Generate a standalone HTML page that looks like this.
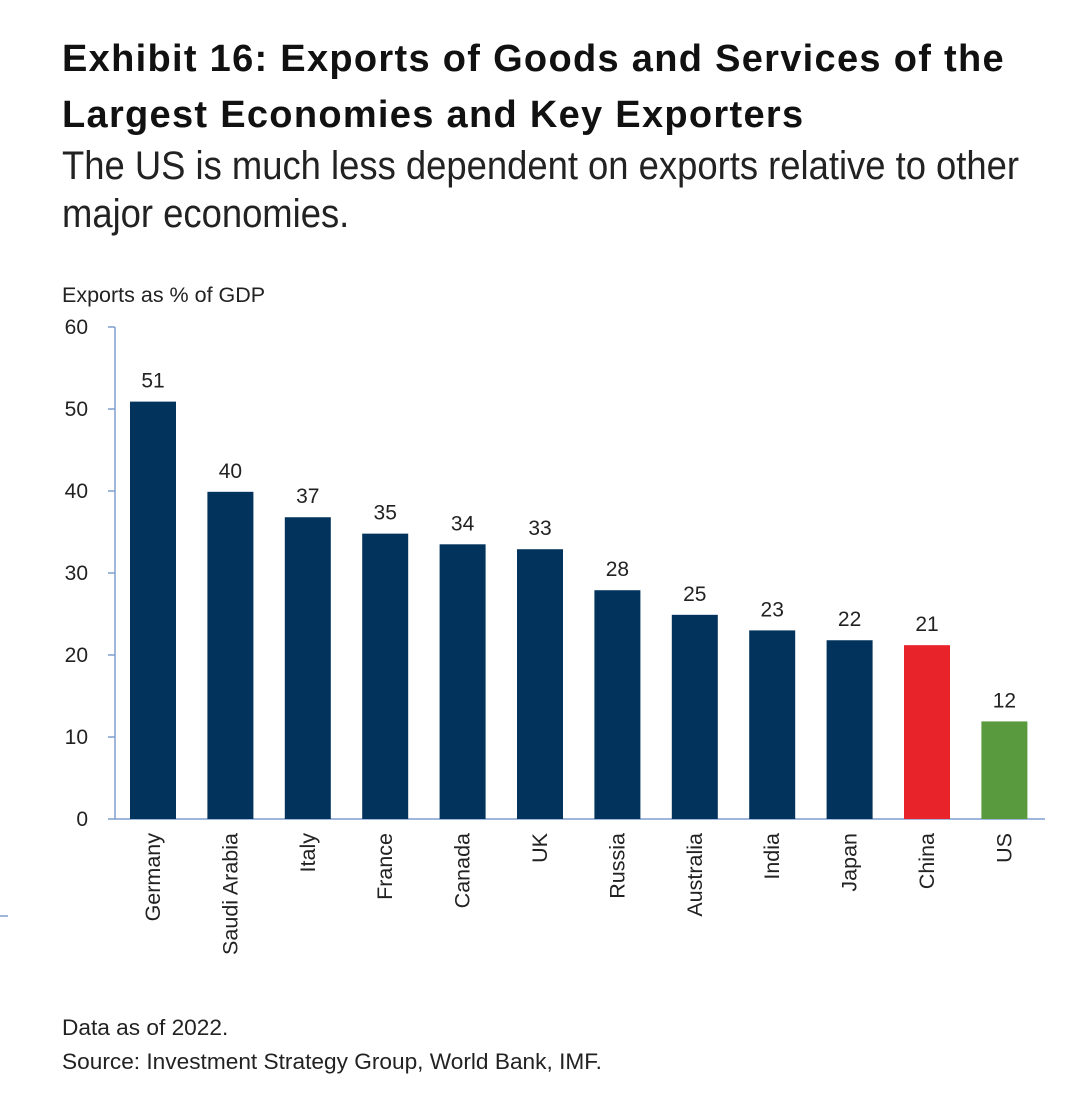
<!DOCTYPE html>
<html><head><meta charset="utf-8"><style>
body{margin:0;background:#fff;width:1080px;height:1096px;overflow:hidden;font-family:"Liberation Sans Narrow","Liberation Sans",sans-serif;color:#111}
.t{position:absolute;left:62px;font-family:"Liberation Sans",sans-serif;font-weight:bold;font-size:38px;line-height:56px;top:31px;letter-spacing:1.3px;white-space:nowrap}
.s{position:absolute;left:62px;top:142px;font-size:40px;line-height:48px;color:#222;transform:scaleX(0.91);transform-origin:left top;white-space:nowrap}
.f{position:absolute;left:62px;font-size:22px;color:#222;transform:scaleX(1.03);transform-origin:left top;white-space:nowrap}
</style></head><body>
<div class="t">Exhibit 16: Exports of Goods and Services of the<br>Largest Economies and Key Exporters</div>
<div class="s">The US is much less dependent on exports relative to other<br>major economies.</div>
<svg id="c" width="1080" height="1096" style="position:absolute;left:0;top:0"></svg>
<div class="f" style="top:1015px">Data as of 2022.</div>
<div class="f" style="top:1049px">Source: Investment Strategy Group, World Bank, IMF.</div>
<script>
const categories=["Germany","Saudi Arabia","Italy","France","Canada","UK","Russia","Australia","India","Japan","China","US"];
const values=[50.9,39.9,36.8,34.8,33.5,32.9,27.9,24.9,23.0,21.8,21.2,11.9];
const labels=["51","40","37","35","34","33","28","25","23","22","21","12"];
const colors=["#02335c","#02335c","#02335c","#02335c","#02335c","#02335c","#02335c","#02335c","#02335c","#02335c","#e8242a","#5a9a3f"];
const ticks=[0,10,20,30,40,50,60];
const svg=document.getElementById('c');const NS="http://www.w3.org/2000/svg";
const y0=819,yTop=327,vmax=60,x0=115,x1=1045;
const y=v=>y0-(v/vmax)*(y0-yTop);
const x=i=>153+i*77.4;
function mk(t,a){const e=document.createElementNS(NS,t);for(const k in a)e.setAttribute(k,a[k]);svg.appendChild(e);return e;}
const ax=mk('line',{x1:x0,y1:yTop,x2:x0,y2:y0,stroke:'#7f9fcf','stroke-width':1.5});


const bx=mk('line',{x1:x0,y1:y0,x2:x1,y2:y0,stroke:'#7f9fcf','stroke-width':1.5});


const mark=mk('line',{x1:0,y1:916,x2:8,y2:916,stroke:'#7f9fcf','stroke-width':1.5});


const yt=mk('text',{x:62,y:302,'font-size':21.5,fill:'#222'});yt.textContent='Exports as % of GDP';


ticks.forEach(t=>{
 const l=mk('line',{x1:x0-7,y1:y(t),x2:x0,y2:y(t),stroke:'#7f9fcf','stroke-width':1.5});
 
 
 const tx=mk('text',{x:88,y:y(t)+7,'font-size':21,'text-anchor':'end',fill:'#222'});tx.textContent=t;
 
 
});
categories.forEach((c,i)=>{
 const r=mk('rect',{x:x(i)-23,y:y(values[i]),width:46,height:y0-y(values[i]),fill:colors[i]});
 
 
 const v=mk('text',{x:x(i),y:y(values[i])-14,'font-size':21,'text-anchor':'middle',fill:'#222'});v.textContent=labels[i];
 
 
 const cl=mk('text',{x:0,y:0,'font-size':21.5,'text-anchor':'end',fill:'#222',transform:`translate(${x(i)+7},${y0+14}) rotate(-90)`});cl.textContent=c;
 
 
});
</script>
</body></html>
